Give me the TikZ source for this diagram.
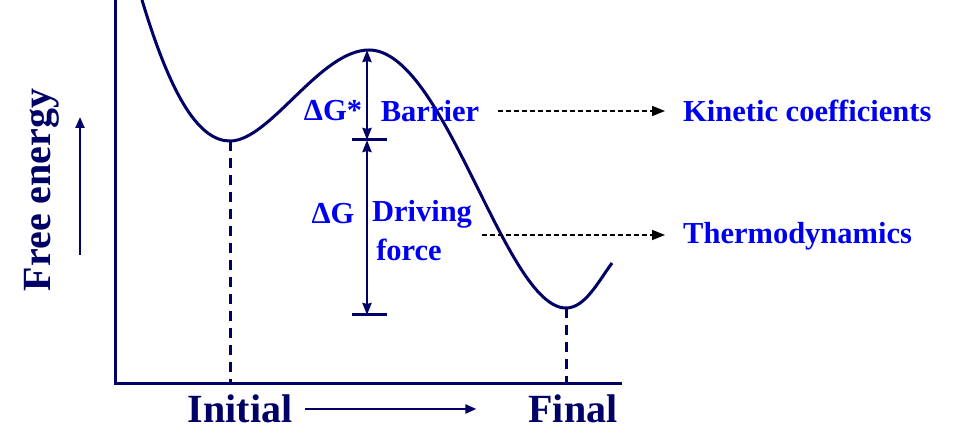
\documentclass[tikz,border=0pt]{standalone}
\usepackage{fontspec}
\setmainfont{Liberation Serif}
\usetikzlibrary{arrows.meta}

\definecolor{inknavy}{RGB}{0,0,102}
\definecolor{labelblue}{RGB}{0,0,240}

\begin{document}
\begin{tikzpicture}[x=1pt,y=-1pt,
    curve/.style={inknavy,line width=3pt},
    guide/.style={inknavy,line width=3pt,dash pattern=on 10pt off 7pt},
    dim/.style={inknavy,line width=2.5pt,{Stealth[length=12pt,width=9pt,inset=1pt]}-{Stealth[length=12pt,width=9pt,inset=1pt]}},
    navyarrow/.style={inknavy,line width=2.2pt,-{Triangle[length=11pt,width=9pt]}},
    hint/.style={black,line width=1.6pt,dash pattern=on 5pt off 3pt,-{Triangle[length=13pt,width=10pt]}},
    lbl/.style={labelblue,font=\bfseries\fontsize{30.5}{34}\selectfont,inner sep=0pt},
    axlbl/.style={inknavy,font=\bfseries\fontsize{40}{44}\selectfont,inner sep=0pt}]
    \useasboundingbox (0,0) rectangle (969,435);
            % axes and free energy curve
            \coordinate (O) at (115,384);
            \coordinate (start) at (142,0);
            \coordinate (minI) at (230,141);
            \coordinate (peak) at (369,50);
            \coordinate (minF) at (566,308);
            \coordinate (stop) at (612,263);
            \draw[curve] (115,0) -- (O) -- (622,384);
            \draw[curve] (start) .. controls (172,100) and (200,141) .. (minI)
                .. controls (270,141) and (320,50) .. (peak)
                .. controls (445,50) and (505,308) .. (minF)
                .. controls (585,308) and (598,282) .. (stop);
            \draw[guide] (minI) -- (minI |- O);
            \draw[guide] (minF) -- (minF |- O);
            % barrier and driving force
            \coordinate (top) at (367,50);
            \coordinate (mid) at (367,140);
            \coordinate (bot) at (367,315);
            \draw[dim] (top) -- (mid);
            \draw[dim] (mid) -- (bot);
            \draw[curve] ([xshift=-15pt]mid) -- ([xshift=20pt]mid);
            \draw[curve] ([xshift=-15pt]bot) -- ([xshift=20pt]bot);
            \node[lbl] (dGs) at (333,111) {ΔG*};
            \node[lbl] (barrier) at (430,111) {Barrier};
            \node[lbl] (dG) at (333,214) {ΔG};
            \node[lbl] (driving) at (422,214) {Driving};
            \node[lbl] (force) at (409,250) {force};
            \node[lbl,anchor=west] (kinetic) at (683,111) {Kinetic coefficients};
            \node[lbl,anchor=west] (thermo) at (683,236) {Thermodynamics};
            \coordinate (thermostart) at (482,235);
            \coordinate (thermoend) at ([xshift=-18pt]thermo.west);
            \draw[hint] ([xshift=19pt]barrier.east) -- ([xshift=-18pt]kinetic.west);
            \draw[hint] (thermostart) -- (thermostart -| thermoend);
            % axis labels
            \node[axlbl] (initial) at (240,409) {Initial};
            \node[axlbl] (final) at (573,409) {Final};
            \node[axlbl,rotate=90] (free) at (42,190) {Free energy};
            \draw[navyarrow] ([xshift=13pt]initial.east) -- ([xshift=-52pt]final.west);
            \coordinate (upfoot) at (80,255);
            \coordinate (uphead) at (80,117);
            \draw[navyarrow] (upfoot) -- (uphead);
        \end{tikzpicture}
\end{document}
